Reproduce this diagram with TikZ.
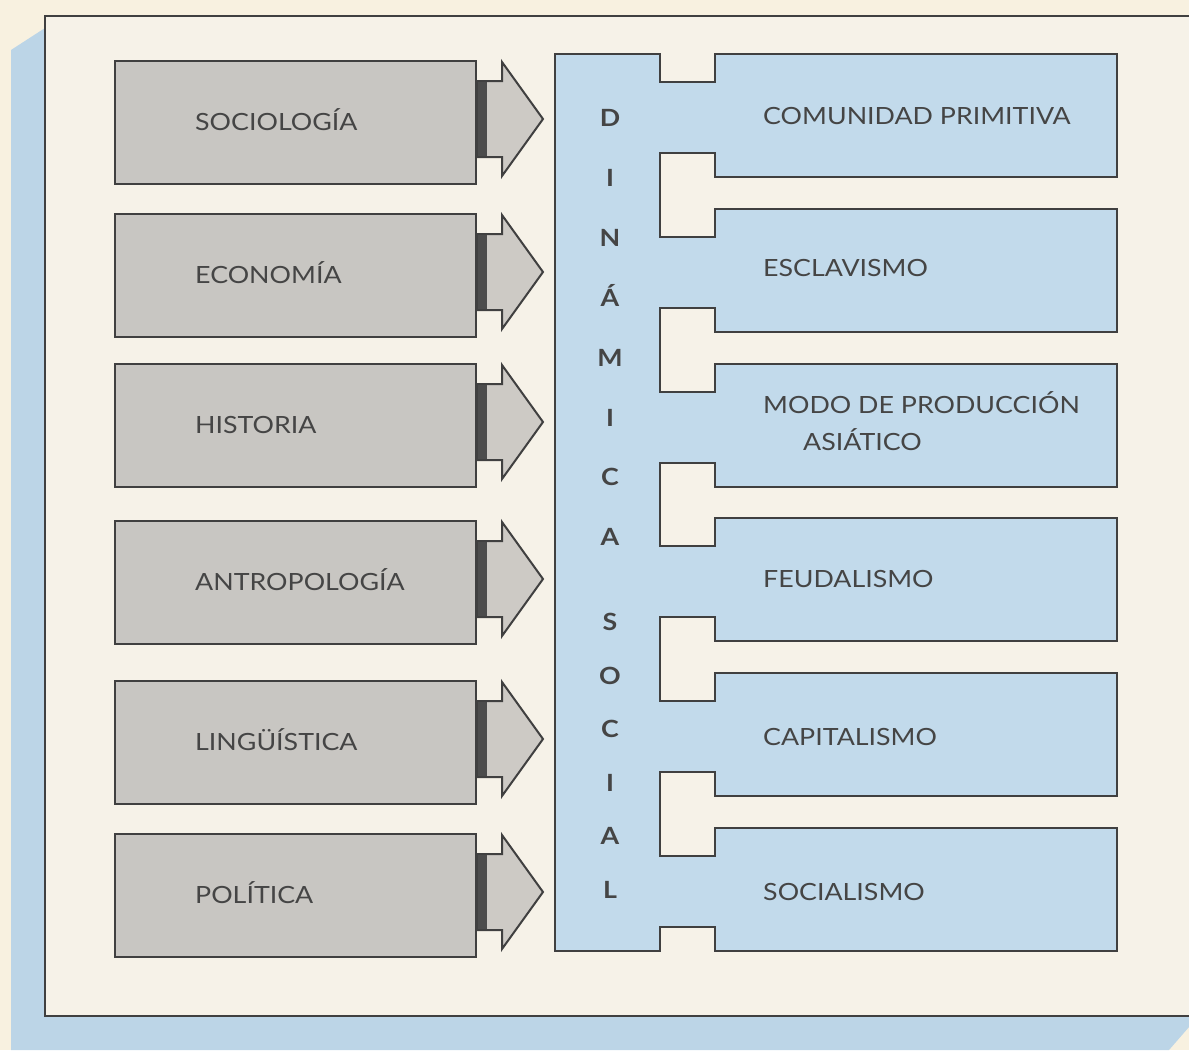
\documentclass[tikz,border=0pt]{standalone}
\usepackage{fontspec}
\setmainfont[FakeStretch=1.13]{Lato}
\definecolor{pagebg}{HTML}{F8F1E0}
\definecolor{innerbg}{HTML}{F6F2E8}
\definecolor{shadowblue}{HTML}{BCD5E7}
\definecolor{boxblue}{HTML}{C2DAEB}
\definecolor{graybox}{HTML}{C8C6C2}
\definecolor{arrowgray}{HTML}{CDCAC5}
\definecolor{linecol}{HTML}{404040}
\definecolor{textcol}{HTML}{454545}
\definecolor{bandcol}{HTML}{4C4C4C}
\begin{document}
\begin{tikzpicture}[x=1pt,y=-1pt,
  lbox/.style={draw=linecol, line width=2pt, fill=graybox, minimum width=361pt, minimum height=123pt, inner sep=0pt, anchor=north west},
  ltext/.style={text=textcol, font=\fontsize{23.7}{28}\selectfont, anchor=base west, inner sep=0pt},
  rtext/.style={text=textcol, font=\fontsize{23.7}{37}\selectfont, anchor=base west, inner sep=0pt, align=left},
  sptext/.style={text=textcol, font=\fontsize{23.7}{28}\selectfont\bfseries, anchor=base, inner sep=0pt},
  arr/.style={draw=linecol, line width=2pt, fill=arrowgray, line join=miter},
  band/.style={fill=bandcol},
  framestyle/.style={draw=linecol, line width=2.5pt},
  shapestyle/.style={draw=linecol, line width=2pt, fill=boxblue}
]
\useasboundingbox (0,0) rectangle (1189,1050);
\fill[pagebg] (0,0) rectangle (1189,1050);
% shadow of the frame
\fill[shadowblue] (45,28) -- (11,50) -- (11,1050) -- (1169,1050) -- (1189,1027) -- (1189,1016) -- (45,1016) -- cycle;
% frame
\fill[innerbg] (45,16) rectangle (1189,1016);
\draw[framestyle] (1189,16) -- (45,16) -- (45,1016) -- (1189,1016);

% left boxes with arrows
\foreach \t/\nm/\lab in {60/b1/SOCIOLOGÍA, 213/b2/ECONOMÍA, 363/b3/HISTORIA, 520/b4/ANTROPOLOGÍA, 680/b5/LINGÜÍSTICA, 833/b6/POLÍTICA}{
  \node[lbox] (\nm) at (114,\t) {};
  \node[ltext] (\nm t) at (195,\t+70) {\lab};
  \draw[arr] (\nm.north east) ++(0,21) -- ++(25,0) -- ++(0,-19) -- ++(41,57) -- ++(-41,57) -- ++(0,-19) -- ++(-25,0) -- cycle;
  \fill[band] (\nm.north east) ++(1,22) rectangle ++(9,74);
}

% right compound shape (spine + boxes)
\draw[shapestyle, line join=miter]
  (555,54) -- (660,54) -- (660,82) -- (715,82) -- (715,54) -- (1117,54) -- (1117,177) -- (715,177) -- (715,153)
  -- (660,153) -- (660,236.8) -- (715,236.8) -- (715,208.8) -- (1117,208.8) -- (1117,331.8) -- (715,331.8) -- (715,307.8)
  -- (660,307.8) -- (660,391.6) -- (715,391.6) -- (715,363.6) -- (1117,363.6) -- (1117,486.6) -- (715,486.6) -- (715,462.6)
  -- (660,462.6) -- (660,546.4) -- (715,546.4) -- (715,518.4) -- (1117,518.4) -- (1117,641.4) -- (715,641.4) -- (715,617.4)
  -- (660,617.4) -- (660,701.2) -- (715,701.2) -- (715,673.2) -- (1117,673.2) -- (1117,796.2) -- (715,796.2) -- (715,772.2)
  -- (660,772.2) -- (660,856) -- (715,856) -- (715,828) -- (1117,828) -- (1117,951) -- (715,951) -- (715,927)
  -- (660,927) -- (660,951) -- (555,951) -- cycle;

% right texts
\node[rtext] (r1) at (763,124) {COMUNIDAD PRIMITIVA};
\node[rtext] (r2) at (763,276) {ESCLAVISMO};
\node[rtext] (r3) at (763,450) {MODO DE PRODUCCIÓN\\\hspace{40pt}ASIÁTICO};
\node[rtext] (r4) at (763,587) {FEUDALISMO};
\node[rtext] (r5) at (763,745) {CAPITALISMO};
\node[rtext] (r6) at (763,900) {SOCIALISMO};

% vertical title
\foreach \ch [count=\k from 0] in {D,I,N,Á,M,I,C,A}{
  \node[sptext] (da\k) at (610,126.5+59.9*\k) {\ch};
}
\foreach \ch [count=\k from 0] in {S,O,C,I,A,L}{
  \node[sptext] (so\k) at (610,630.5+53.6*\k) {\ch};
}
\end{tikzpicture}
\end{document}
